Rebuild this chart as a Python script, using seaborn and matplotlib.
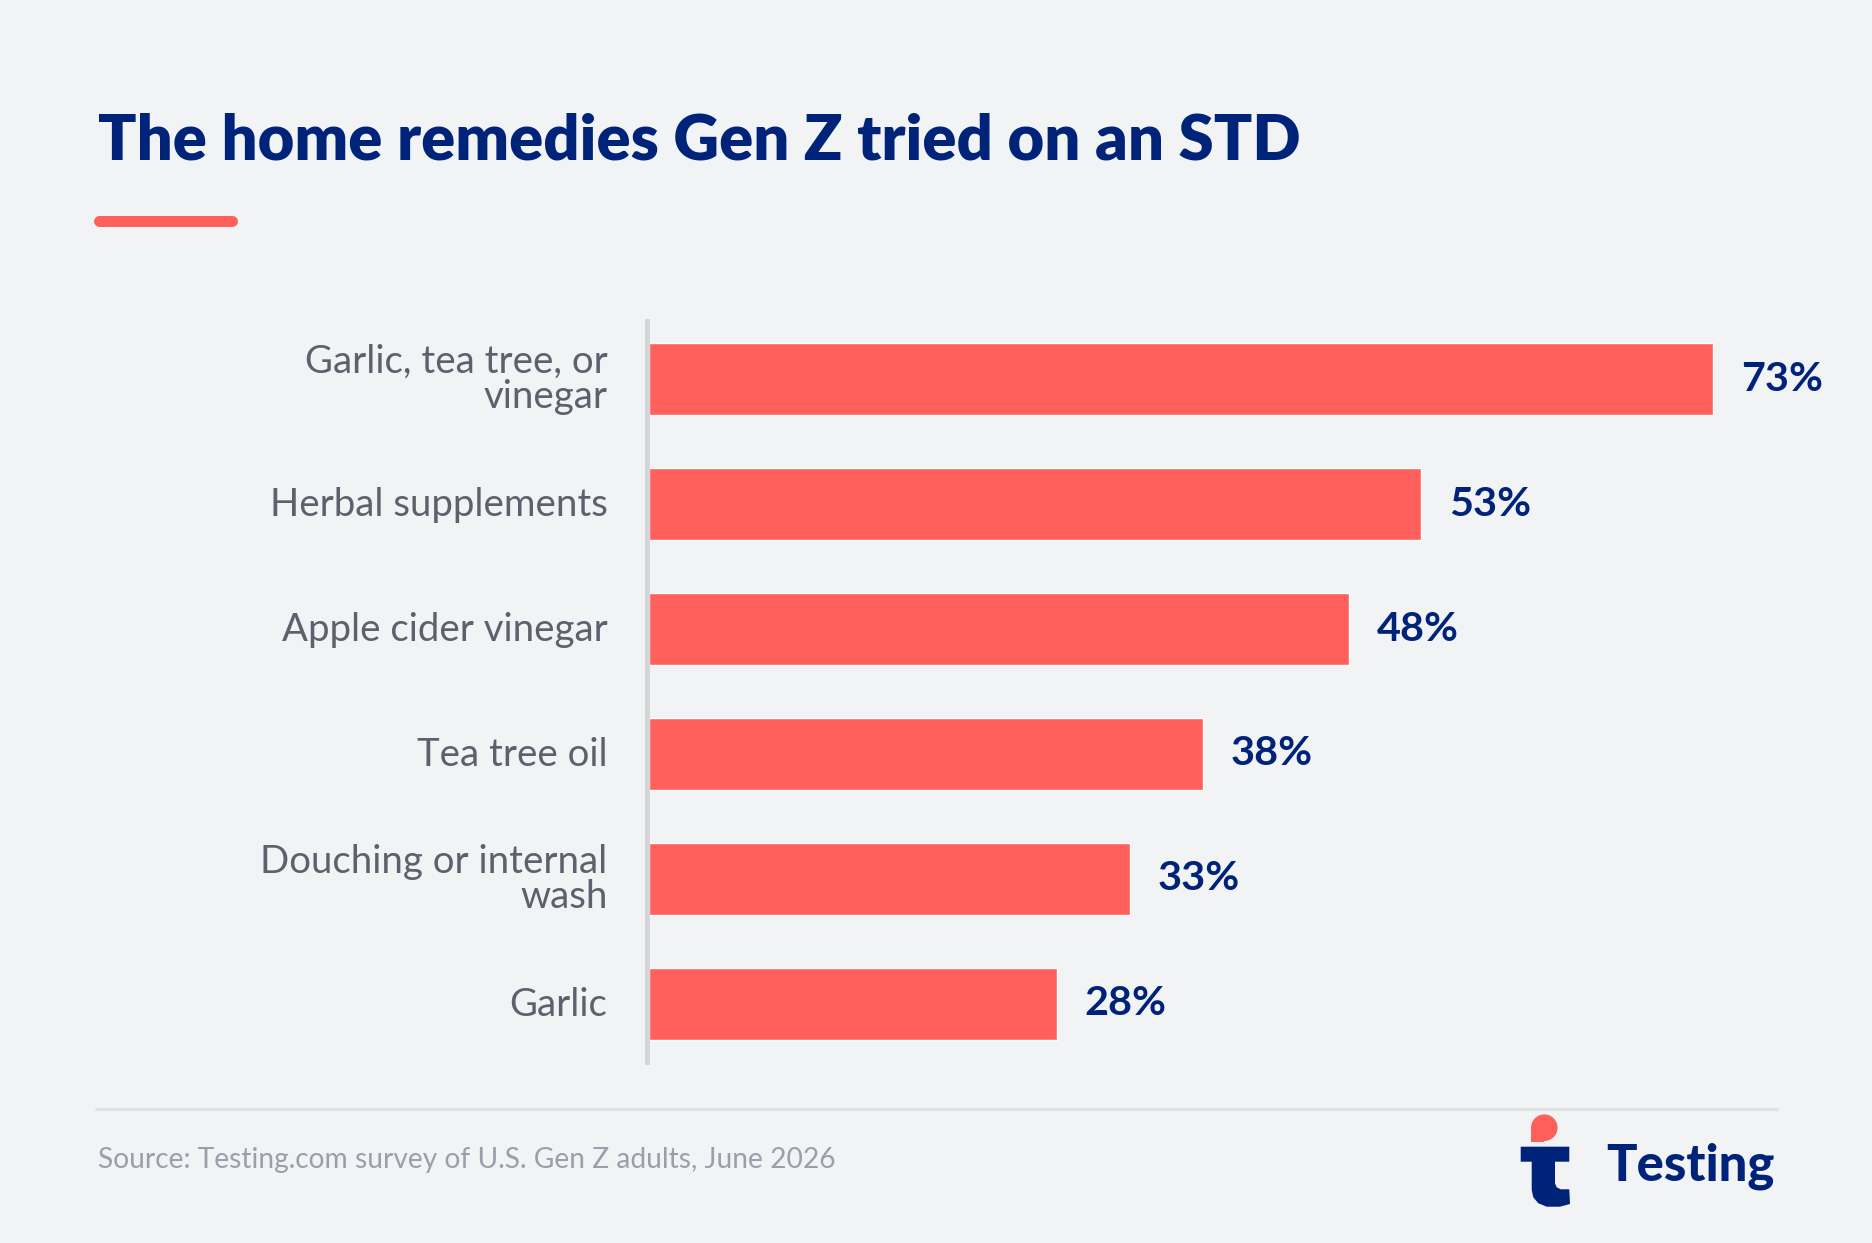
import matplotlib
matplotlib.use("Agg")
import matplotlib.pyplot as plt
import matplotlib.transforms as mtransforms
import seaborn as sns
import pandas as pd
from matplotlib.lines import Line2D
from matplotlib.patches import Polygon, Circle
from matplotlib.transforms import IdentityTransform

# ── Data ──────────────────────────────────────────────────────────────────────
remedies = [
    "Garlic, tea tree, or\nvinegar",
    "Herbal supplements",
    "Apple cider vinegar",
    "Tea tree oil",
    "Douching or internal\nwash",
    "Garlic",
]
shares = [73, 53, 48, 38, 33, 28]

TITLE  = "The home remedies Gen Z tried on an STD"
SOURCE = "Source: Testing.com survey of U.S. Gen Z adults, June 2026"

# ── Style ─────────────────────────────────────────────────────────────────────
W, H   = 1872, 1243
BG     = "#f2f3f5"
CORAL  = "#ff605b"
NAVY   = "#00237a"
LABEL  = "#5d616d"
GREY   = "#9a9fab"
RULE   = "#e0e1e5"

sns.set_theme(style="white")
plt.rcParams["font.family"] = ["Lato", "DejaVu Sans"]

df = pd.DataFrame({"remedy": remedies, "share": shares})

fig = plt.figure(figsize=(W / 100, H / 100), dpi=100, facecolor=BG)
ax = fig.add_axes([649 / W, 1 - 1062 / H, (1780 - 649) / W, (1062 - 321) / H])
ax.set_facecolor(BG)

sns.barplot(data=df, x="share", y="remedy", color=CORAL, saturation=1,
            width=0.577, ax=ax)

ax.set_xlim(0, 77.6)
ax.set_ylim(5.465, -0.465)
ax.set_xlabel("")
ax.set_ylabel("")
ax.set_xticks([])
for s in ["top", "right", "bottom"]:
    ax.spines[s].set_visible(False)
ax.spines["left"].set_color("#d5d6da")
ax.spines["left"].set_linewidth(3.6)
ax.spines["left"].set_position(("outward", 1.8))

ax.tick_params(axis="y", length=0, pad=28, labelsize=27.6, labelcolor=LABEL)
# nudge category labels up a touch
nudge = mtransforms.ScaledTranslation(0, 2.5 / 100, fig.dpi_scale_trans)
for t in ax.get_yticklabels():
    t.set_linespacing(0.97)
    t.set_transform(t.get_transform() + nudge)

ax.bar_label(ax.containers[0], labels=[f"{v}%" for v in shares], padding=20,
             fontsize=29.8, fontweight="bold", color=NAVY)

# ── Header ────────────────────────────────────────────────────────────────────
fig.text(98 / W, 1 - 159 / H, TITLE, fontsize=45.5, fontweight="heavy",
         color=NAVY, va="baseline", ha="left")
fig.add_artist(Line2D([99 / W, 232 / W], [1 - 221.5 / H] * 2, lw=7.9,
                      color=CORAL, solid_capstyle="round"))

# ── Footer ────────────────────────────────────────────────────────────────────
fig.add_artist(Line2D([96 / W, 1777 / W], [1 - 1109 / H] * 2, lw=2.2,
                      color=RULE))
fig.text(98 / W, 1 - 1160 / H, SOURCE, fontsize=20.25, color=GREY,
         va="center", ha="left")

fig.text(1606 / W, 1 - 1180 / H, "Testing", fontsize=36.5, fontweight="black",
         color=NAVY, va="baseline", ha="left")

def px(pts):
    return [(x, H - y) for x, y in pts]

t_shape = [(1520.7, 1146.7), (1569.3, 1146.7), (1569.3, 1161.7), (1555, 1161.7),
           (1555, 1183.3), (1556.7, 1187.3), (1560.7, 1189.3), (1569.3, 1189.3),
           (1570, 1204), (1560, 1206.7), (1546.7, 1206.7), (1538.3, 1203.3),
           (1533.3, 1197.3), (1531.7, 1190), (1531.7, 1161.7), (1520.7, 1161.7)]
fig.add_artist(Polygon(px(t_shape), closed=True, facecolor=NAVY,
                       edgecolor="none", transform=IdentityTransform()))
fig.add_artist(Circle((1544.3, H - 1127.7), 13.3, facecolor=CORAL,
                      edgecolor="none", transform=IdentityTransform()))
drop_tip = [(1531, 1127.7), (1544.3, 1127.7), (1544.3, 1141.7), (1531, 1141.7)]
fig.add_artist(Polygon(px(drop_tip), closed=True, facecolor=CORAL,
                       edgecolor="none", transform=IdentityTransform()))

fig.savefig("out.png", dpi=100, facecolor=BG)
plt.close(fig)
